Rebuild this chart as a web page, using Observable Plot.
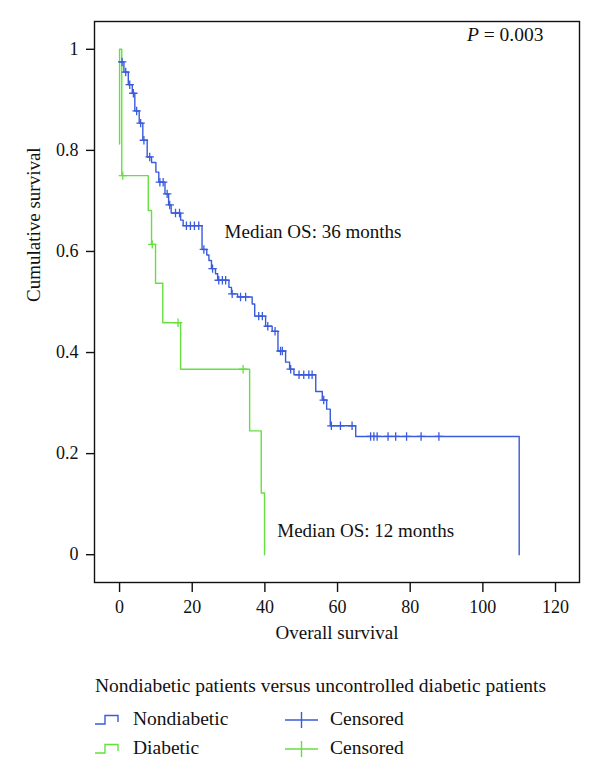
<!DOCTYPE html>
<html><head><meta charset="utf-8">
<script src="https://cdn.jsdelivr.net/npm/d3@7"></script>
<script src="https://cdn.jsdelivr.net/npm/@observablehq/plot@0.6"></script>
<style>
body{margin:0;background:#fff;font-family:"Liberation Serif","Times New Roman","DejaVu Serif",serif;}
#wrap{position:relative;width:600px;height:765px;overflow:hidden;}
#wrap svg{position:absolute;left:0;top:0;}
#wrap svg text{font-family:"Liberation Serif","Times New Roman","DejaVu Serif",serif;}
.leg{position:absolute;font-size:19.5px;color:#111;white-space:nowrap;line-height:20px;font-family:"Liberation Serif","Times New Roman","DejaVu Serif",serif;}
.icon{position:absolute;overflow:visible;}
</style></head><body><div id="wrap"></div>
<script>
// Nondiabetic (blue) Kaplan-Meier step points: time (months), survival after step
const nondiabeticTime = [0, 1.2, 2.4, 3.5, 4.2, 5.4, 6.4, 7.6, 8.8, 10.0, 10.8, 12.5, 13.5, 14.2, 16.8, 17.5, 22.7, 24.0, 24.6, 25.3, 26.4, 27.0, 30.1, 30.8, 32.5, 36.5, 37.2, 40.2, 42.0, 43.6, 45.7, 46.8, 48.0, 54.0, 55.8, 57.0, 58.0, 65.0, 110];
const nondiabeticSurv = [0.975, 0.955, 0.930, 0.913, 0.878, 0.854, 0.820, 0.787, 0.776, 0.757, 0.737, 0.714, 0.692, 0.676, 0.662, 0.651, 0.604, 0.593, 0.582, 0.566, 0.556, 0.543, 0.529, 0.516, 0.510, 0.496, 0.472, 0.452, 0.442, 0.403, 0.381, 0.367, 0.356, 0.323, 0.306, 0.288, 0.255, 0.234, 0];
const nondiabeticCensorTime = [0.7, 1.7, 2.8, 3.8, 4.7, 5.8, 6.7, 8.3, 11.1, 12.0, 13.1, 13.8, 15.4, 16.5, 18.4, 19.5, 20.6, 21.8, 23.2, 25.6, 27.3, 28.3, 29.2, 31.0, 33.3, 34.7, 38.3, 39.3, 40.8, 42.8, 44.3, 44.8, 47.1, 49.4, 50.7, 52.1, 53.0, 56.2, 58.3, 60.8, 64.0, 69.1, 70.0, 70.9, 73.9, 76.0, 79.0, 83.0, 87.9];
// Diabetic (green)
const diabeticTime = [0, 0, 0.6, 7.9, 8.8, 9.9, 11.9, 16.8, 35.8, 39.0, 39.9];
const diabeticSurv = [0.8125, 1, 0.75, 0.681, 0.614, 0.537, 0.459, 0.367, 0.245, 0.122, 0];
const diabeticCensorTime = [0.9, 9.0, 16.1, 34.0];

const xTicks = [0, 20, 40, 60, 80, 100, 120];
const yTicks = [0, 0.2, 0.4, 0.6, 0.8, 1];
const annotationText = ["Median OS: 36 months", "Median OS: 12 months", "P = 0.003"];
const annotationT = [28.9, 43.4, 95.6];
const annotationS = [0.638, 0.048, 1.028];

const BLUE = "#3a5bdc", GREEN = "#66e040";
const FONT = "'Liberation Serif','Times New Roman','DejaVu Serif',serif";

function survAt(times, surv, t) {
  let s = surv[0];
  for (let i = 0; i < times.length; i++) if (times[i] <= t) s = surv[i];
  return s;
}
const blueLine = nondiabeticTime.map((t, i) => ({t, s: nondiabeticSurv[i]}));
const greenLine = diabeticTime.map((t, i) => ({t, s: diabeticSurv[i]}));
const blueCens = nondiabeticCensorTime.map(t => ({t, s: survAt(nondiabeticTime, nondiabeticSurv, t)}));
const greenCens = diabeticCensorTime.map(t => ({t, s: survAt(diabeticTime, diabeticSurv, t)}));
const notes = annotationText.map((label, i) => ({label, t: annotationT[i], s: annotationS[i]}));

const plusSymbol = {
  draw(ctx, size) {
    const r = Math.sqrt(size / Math.PI);
    ctx.moveTo(-r, 0); ctx.lineTo(r, 0);
    ctx.moveTo(0, -r); ctx.lineTo(0, r);
  }
};

const chart = Plot.plot({
  width: 600,
  height: 665,
  marginLeft: 94,
  marginRight: 21,
  marginTop: 21,
  marginBottom: 83,
  style: {fontFamily: FONT, fontSize: "18px", background: "#fff", color: "#111"},
  x: {domain: [-6.9, 126.6], ticks: xTicks, label: null},
  y: {domain: [-0.055, 1.055], ticks: yTicks, label: null},
  marks: [
    Plot.frame({stroke: "#111", strokeWidth: 1.4}),
    Plot.axisX({ticks: xTicks, tickSize: 10, tickPadding: 8, strokeWidth: 1.4, label: null, fontSize: 18, fill: "#111", stroke: "#111"}),
    Plot.axisY({ticks: yTicks, tickSize: 8, tickPadding: 8, strokeWidth: 1.4, label: null, fontSize: 18, fill: "#111", stroke: "#111",
      tickFormat: d => String(+d.toFixed(1))}),
    Plot.text(["Overall survival"], {frameAnchor: "bottom", dy: 56, text: d => d, fontSize: 19, fill: "#111"}),
    Plot.text(["Cumulative survival"], {frameAnchor: "left", dx: -61, rotate: -90, text: d => d, fontSize: 19, fill: "#111"}),
    Plot.line(greenLine, {x: "t", y: "s", curve: "step-after", stroke: GREEN, strokeWidth: 1.4}),
    Plot.line(blueLine, {x: "t", y: "s", curve: "step-after", stroke: BLUE, strokeWidth: 1.4}),
    Plot.dot(greenCens, {x: "t", y: "s", symbol: plusSymbol, r: 4.2, stroke: GREEN, fill: "none", strokeWidth: 1.3}),
    Plot.dot(blueCens, {x: "t", y: "s", symbol: plusSymbol, r: 4.2, stroke: BLUE, fill: "none", strokeWidth: 1.3}),
    Plot.text(notes, {x: "t", y: "s", text: "label", textAnchor: "start", fontSize: 19, fill: "#111"})
  ]
});
const wrap = document.getElementById("wrap");
wrap.appendChild(chart);

// italic P
d3.select(chart).selectAll("text").each(function() {
  if (this.textContent === "P = 0.003") {
    const t = d3.select(this);
    t.text("");
    t.attr("font-size", 19.5);
    t.append("tspan").attr("font-style", "italic").text("P");
    t.append("tspan").text(" = 0.003");
  }
});

// Legend (HTML below the plot area)
const legendTitle = "Nondiabetic patients versus uncontrolled diabetic patients";
const legendSeries = ["Nondiabetic", "Diabetic"];
const legendColors = [BLUE, GREEN];
const legendCensor = "Censored";

function addText(txt, left, cy) {
  const d = document.createElement("div");
  d.className = "leg"; d.textContent = txt;
  d.style.left = left + "px"; d.style.top = (cy - 11) + "px";
  wrap.appendChild(d);
}
addText(legendTitle, 95, 687);
legendSeries.forEach((name, i) => {
  const cy = 720 + i * 28.5;
  const ns = "http://www.w3.org/2000/svg";
  const s1 = document.createElementNS(ns, "svg");
  s1.setAttribute("class", "icon"); s1.setAttribute("width", 26); s1.setAttribute("height", 12);
  s1.style.left = "95px"; s1.style.top = (cy - 6) + "px";
  s1.innerHTML = `<path d="M0,10 H10 V1.5 H23 V8" fill="none" stroke="${legendColors[i]}" stroke-width="1.4"/>`;
  wrap.appendChild(s1);
  addText(name, 133, cy);
  const s2 = document.createElementNS(ns, "svg");
  s2.setAttribute("class", "icon"); s2.setAttribute("width", 34); s2.setAttribute("height", 18);
  s2.style.left = "285px"; s2.style.top = (cy - 8) + "px";
  s2.innerHTML = `<path d="M0,8 H33 M16.5,0 V16" fill="none" stroke="${legendColors[i]}" stroke-width="1.4"/>`;
  wrap.appendChild(s2);
  addText(legendCensor, 330, cy);
});
</script></body></html>
